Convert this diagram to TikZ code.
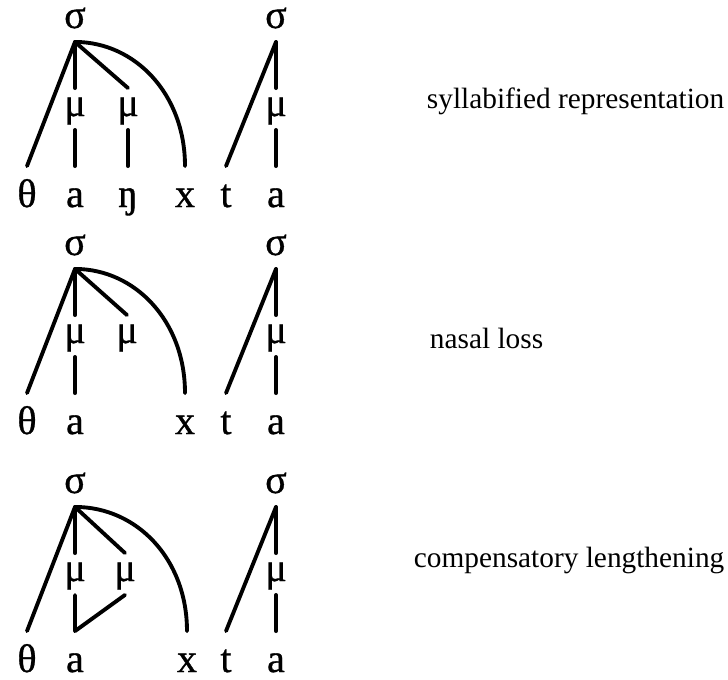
\documentclass[tikz,border=0pt]{standalone}
\usepackage{fontspec}
\setmainfont{Liberation Serif}
\newfontfamily\segfam[FakeBold=0.8]{Liberation Serif}
\newcommand{\segfont}{\segfam\fontsize{30}{32}\selectfont}
\newcommand{\labfont}{\fontsize{22}{26}\selectfont}
\tikzset{
  sig/.style={font=\segfont, inner sep=0pt, anchor=base, text height=12pt, text depth=9pt},
  mora/.style={font=\segfont, inner sep=0pt, anchor=base, text height=19.5pt, text depth=9pt},
  seg/.style={font=\segfont, inner sep=0pt, anchor=base, text height=29.25pt, text depth=0pt},
  lab/.style={font=\labfont, inner sep=0pt, anchor=base west}
}
\begin{document}
\begin{tikzpicture}[x=0.75pt, y=-0.75pt, line width=2.9pt, line cap=round, line join=round]
  \useasboundingbox (0,0) rectangle (728,679);
  % first row: syllabified representation
  \begin{scope}
    \node[sig] (s1) at (75,28) {σ};
    \node[sig] (r1) at (276,28) {σ};
    \node[mora] (m1) at (75,116) {μ};
    \node[mora] (n1) at (128,116) {μ};
    \node[mora] (p1) at (276,116) {μ};
    \node[seg] (th1) at (27,207) {θ};
    \node[seg] (a1) at (75,207) {a};
    \node[seg] (ng1) at (128,207) {ŋ};
    \node[seg] (x1) at (185,207) {x};
    \node[seg] (t1) at (226,207) {t};
    \node[seg] (b1) at (276,207) {a};
    \draw (s1.south) -- (th1.north);
    \draw (s1.south) -- (m1.north);
    \draw (s1.south) -- (n1.north);
    \draw (s1.south) .. controls +(60,0) and +(0,-72) .. (x1.north);
    \draw (m1.south) -- (a1.north);
    \draw (n1.south) -- (ng1.north);
    \draw (r1.south) -- (t1.north);
    \draw (r1.south) -- (p1.north);
    \draw (p1.south) -- (b1.north);
    \node[lab] (lab1) at (425,108) {syllabified representation};
  \end{scope}
  % second row: nasal loss
  \begin{scope}[shift={(0,227)}]
    \node[sig] (s2) at (75,28) {σ};
    \node[sig] (r2) at (276,28) {σ};
    \node[mora] (m2) at (75,116) {μ};
    \node[mora] (n2) at (127,116) {μ};
    \node[mora] (p2) at (276,116) {μ};
    \node[seg] (th2) at (27,207) {θ};
    \node[seg] (a2) at (75,207) {a};
    \node[seg] (x2) at (185,207) {x};
    \node[seg] (t2) at (226,207) {t};
    \node[seg] (b2) at (276,207) {a};
    \draw (s2.south) -- (th2.north);
    \draw (s2.south) -- (m2.north);
    \draw (s2.south) -- (n2.north);
    \draw (s2.south) .. controls +(60,0) and +(0,-72) .. (x2.north);
    \draw (m2.south) -- (a2.north);
    \draw (r2.south) -- (t2.north);
    \draw (r2.south) -- (p2.north);
    \draw (p2.south) -- (b2.north);
    \node[lab] (lab2) at (428,121) {nasal loss};
  \end{scope}
  % third row: compensatory lengthening
  \begin{scope}[shift={(0,465)}]
    \node[sig] (s3) at (75,28) {σ};
    \node[sig] (r3) at (276,28) {σ};
    \node[mora] (m3) at (75,116) {μ};
    \node[mora] (n3) at (125,116) {μ};
    \node[mora] (p3) at (276,116) {μ};
    \node[seg] (th3) at (27,207) {θ};
    \node[seg] (a3) at (75,207) {a};
    \node[seg] (x3) at (187,207) {x};
    \node[seg] (t3) at (226,207) {t};
    \node[seg] (b3) at (276,207) {a};
    \draw (s3.south) -- (th3.north);
    \draw (s3.south) -- (m3.north);
    \draw (s3.south) -- (n3.north);
    \draw (s3.south) .. controls +(62,0) and +(0,-72) .. (x3.north);
    \draw (m3.south) -- (a3.north) -- (n3.south);
    \draw (r3.south) -- (t3.north);
    \draw (r3.south) -- (p3.north);
    \draw (p3.south) -- (b3.north);
    \node[lab] (lab3) at (412,102) {compensatory lengthening};
  \end{scope}
\end{tikzpicture}
\end{document}
